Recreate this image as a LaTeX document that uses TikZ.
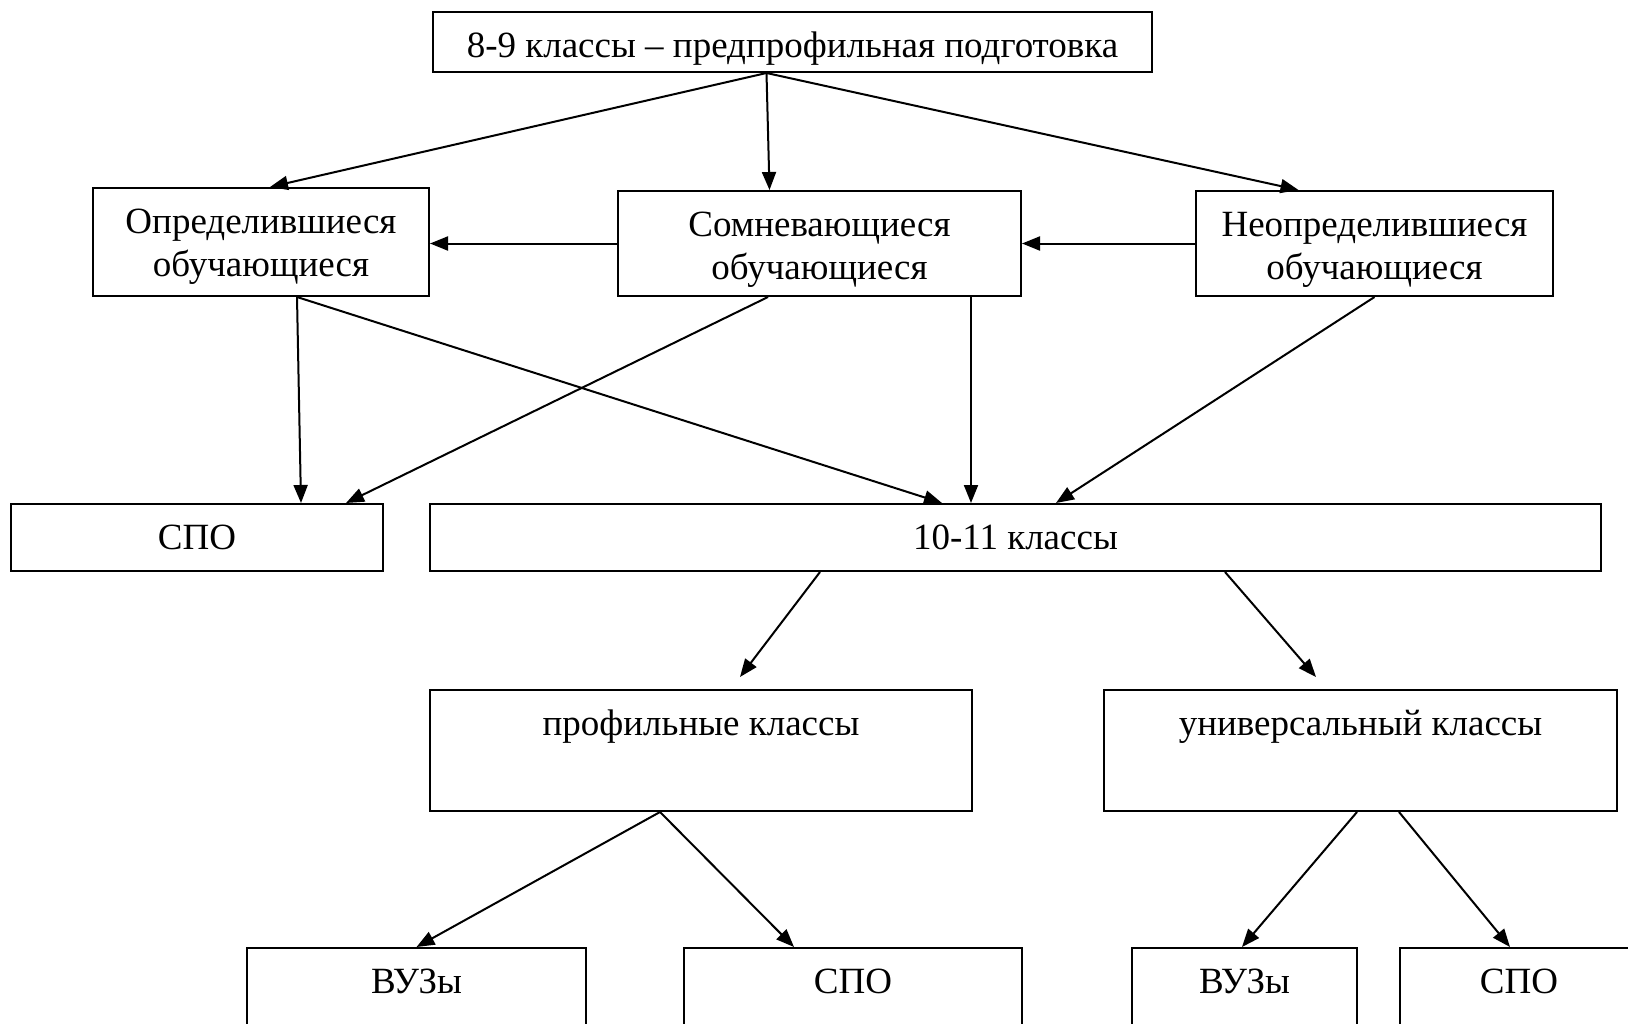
\documentclass[tikz,border=0pt]{standalone}
\usepackage{fontspec}
\setmainfont{Liberation Serif}
\usetikzlibrary{arrows.meta}

\begin{document}
\begin{tikzpicture}[
		x=0.5pt, y=-0.5pt,
		>={Stealth[length=9pt,width=7pt,inset=0pt]},
		line width=1pt,
		box/.style={
			draw=black,
			line width=1pt,
			rectangle,
			inner sep=0pt,
			align=center,
			text height=22.5pt,
			font=\fontsize{18.5}{21.5}\selectfont
		},
		twoline/.style={
			box,
			text height=44pt
		}
		]
		\useasboundingbox (0,0) rectangle (1628,1023);
		\clip (0,0) rectangle (1628,1023);

		% Boxes
		\node[box, minimum width=359.5pt, text depth=7.5pt] (Top) at (792.5,42) {8-9 классы – предпрофильная подготовка};
		\node[twoline, minimum width=168pt, text depth=10pt] (Opr) at (261,242) {Определившиеся\\обучающиеся};
		\node[twoline, minimum width=201.5pt, text depth=8.5pt] (Som) at (819.5,243.5) {Сомневающиеся\\обучающиеся};
		\node[twoline, minimum width=178.5pt, text depth=8.5pt] (Neopr) at (1374.5,243.5) {Неопределившиеся\\обучающиеся};
		\node[box, minimum width=186pt, text depth=11pt] (SPOa) at (197,537.5) {СПО};
		\node[box, minimum width=585.5pt, text depth=11pt] (K1011) at (1015.5,537.5) {10-11 классы};
		\node[box, minimum width=271pt, text depth=38pt] (Prof) at (701,750.5) {профильные классы};
		\node[box, minimum width=256.5pt, text depth=38pt] (Univ) at (1360.5,750.5) {универсальный классы};
		\node[box, minimum width=169.5pt, text depth=38pt] (VUZa) at (416.5,1008.5) {ВУЗы};
		\node[box, minimum width=169pt, text depth=38pt] (SPOb) at (853,1008.5) {СПО};
		\node[box, minimum width=112.5pt, text depth=38pt] (VUZb) at (1244.5,1008.5) {ВУЗы};
		\node[box, minimum width=119pt, text depth=38pt] (SPOc) at (1519,1008.5) {СПО};

		% Free arrow ends above the class boxes
		\coordinate (ProfIn) at (740,677);
		\coordinate (UnivIn) at (1316,677);

		% Arrows
		\path[->] ([xshift=-13pt]Top.south) edge ([xshift=4.5pt]Opr.north)
			edge ([xshift=-25pt]Som.north)
			edge ([xshift=-38pt]Neopr.north);
		\draw[->] (Som.west) -- (Som.west -| Opr.east);
		\draw[->] (Neopr.west) -- (Som.east);
		\path[->] ([xshift=18pt]Opr.south) edge ([xshift=52pt]SPOa.north)
			edge ([xshift=-36.75pt]K1011.north);
		\draw[->] ([xshift=-25.75pt]Som.south) -- ([xshift=74.5pt]SPOa.north);
		\draw[->] ([xshift=75.75pt]Som.south) -- ([xshift=-22.25pt]K1011.north);
		\draw[->] (Neopr.south) -- ([xshift=20.25pt]K1011.north);
		\draw[->] ([xshift=-97.75pt]K1011.south) -- (ProfIn);
		\draw[->] ([xshift=104.75pt]K1011.south) -- (UnivIn);
		\path[->] ([xshift=-20.5pt]Prof.south) edge (VUZa.north)
			edge ([xshift=-29.5pt]SPOb.north);
		\draw[->] ([xshift=-1.75pt]Univ.south) -- ([xshift=-1.25pt]VUZb.north);
		\draw[->] ([xshift=19.25pt]Univ.south) -- ([xshift=-4.5pt]SPOc.north);
	\end{tikzpicture}
\end{document}
